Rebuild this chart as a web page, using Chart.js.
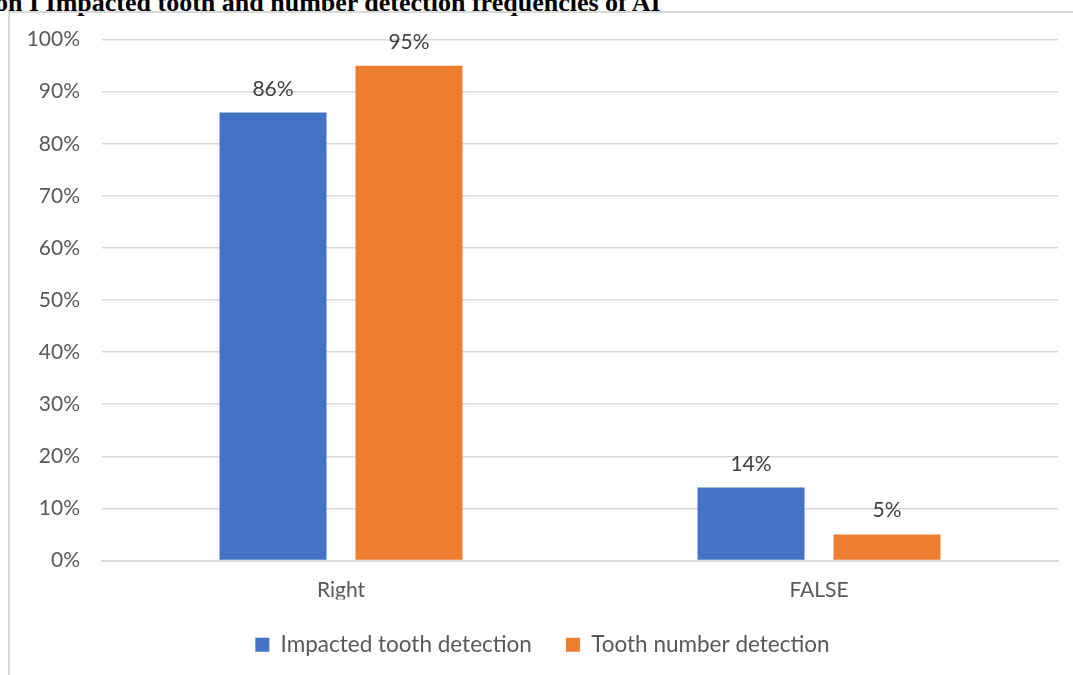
<!DOCTYPE html>
<html><head><meta charset="utf-8">
<script src="https://cdn.jsdelivr.net/npm/chart.js@4/dist/chart.umd.min.js"></script>
<style>
html,body{margin:0;padding:0;background:#fff;width:1073px;height:675px;overflow:hidden;}
#title{position:absolute;left:-5px;top:-10px;font-family:"Liberation Serif","Times New Roman",serif;font-weight:bold;font-size:26px;line-height:1;color:#000;white-space:nowrap;}
#frame{position:absolute;left:8px;top:11px;width:1065px;height:664px;border-left:2px solid #d9d9d9;border-top:2px solid #d9d9d9;box-sizing:border-box;}
#wrap{position:absolute;left:10px;top:5px;width:1063px;height:670px;}
</style></head>
<body>
<div id="title">on I Impacted tooth and number detection frequencies of AI</div>
<div id="frame"></div>
<div id="wrap"><canvas id="c"></canvas></div>
<script>
const categories = ["Right", "FALSE"];
const seriesNames = ["Impacted tooth detection", "Tooth number detection"];
const impactedTooth = [86, 14];
const toothNumber = [95, 5];
const yTicks = [0,10,20,30,40,50,60,70,80,90,100];
const colors = ["#4472C4", "#ED7D31"];

const labelPlugin = {
  id: 'barLabels',
  afterDatasetsDraw(chart) {
    const ctx = chart.ctx;
    ctx.save();
    ctx.font = '21px Lato';
    ctx.fillStyle = '#404040';
    ctx.textAlign = 'center';
    ctx.textBaseline = 'alphabetic';
    chart.data.datasets.forEach((ds, i) => {
      chart.getDatasetMeta(i).data.forEach((bar, j) => {
        ctx.fillText(ds.data[j] + '%', bar.x, bar.y - 17);
      });
    });
    ctx.restore();
  }
};

new Chart(document.getElementById('c'), {
  type: 'bar',
  data: {
    labels: categories,
    datasets: [
      {label: seriesNames[0], data: impactedTooth, backgroundColor: colors[0], categoryPercentage: 0.569, barPercentage: 0.787},
      {label: seriesNames[1], data: toothNumber, backgroundColor: colors[1], categoryPercentage: 0.569, barPercentage: 0.787}
    ]
  },
  options: {
    responsive: true,
    maintainAspectRatio: false,
    animation: false,
    layout: {padding: {top: 4, right: 15, bottom: 9, left: 17}},
    plugins: {
      legend: {
        position: 'bottom',
        maxHeight: 67,
        labels: {boxWidth: 14, boxHeight: 14, font: {family: 'Lato', size: 22.5}, color: '#595959', padding: 34}
      },
      tooltip: {enabled: false}
    },
    scales: {
      x: {
        grid: {display: false, drawTicks: false},
        border: {display: true, color: '#d9d9d9', width: 2},
        ticks: {font: {family: 'Lato', size: 21}, color: '#595959', padding: 17},
        afterFit(s) { s.height = 39; }
      },
      y: {
        min: 0, max: 100,
        afterBuildTicks(s) { s.ticks = yTicks.map(v => ({value: v})); },
        grid: {color: '#d9d9d9', lineWidth: 1.5, drawTicks: false},
        border: {display: false},
        ticks: {font: {family: 'Lato', size: 21}, color: '#595959', padding: 22, callback: v => v + '%'},
        afterFit(s) { s.width = 75; }
      }
    }
  },
  plugins: [labelPlugin]
});
</script>
</body></html>
